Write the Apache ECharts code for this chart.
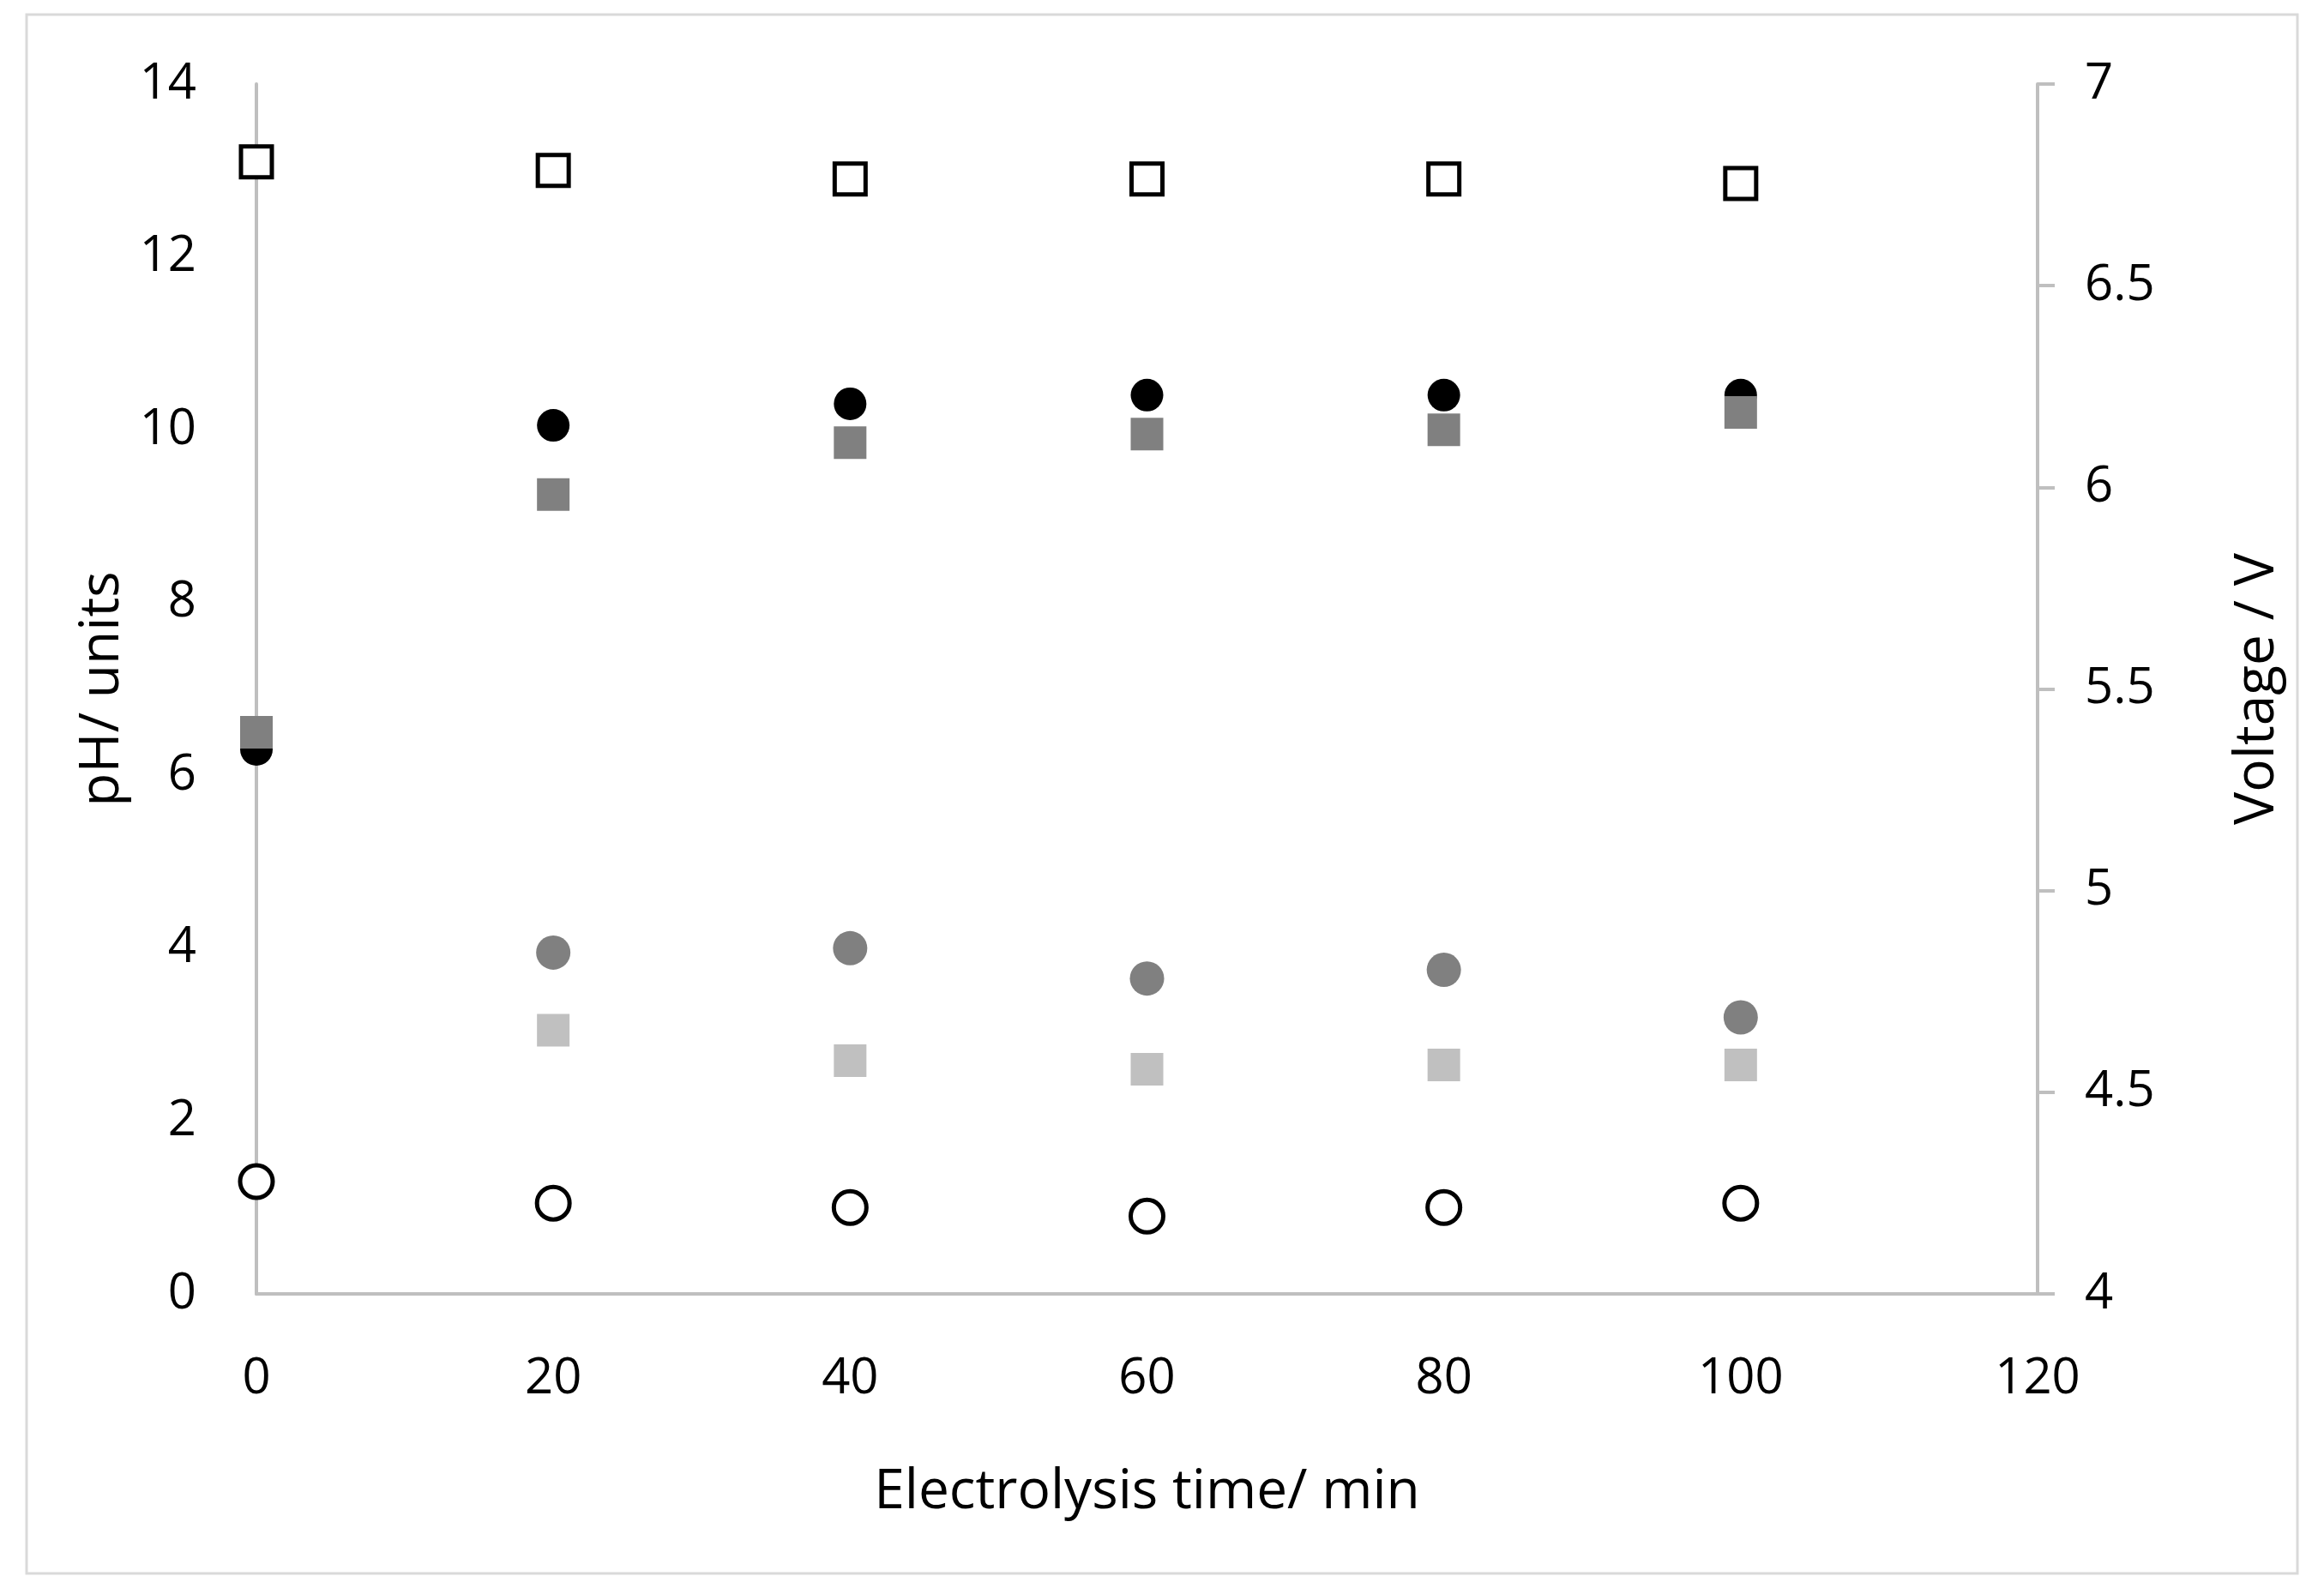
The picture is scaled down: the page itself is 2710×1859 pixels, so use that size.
<!DOCTYPE html>
<html><head><meta charset="utf-8">
<script src="https://cdn.jsdelivr.net/npm/echarts@6/dist/echarts.min.js"></script>
<style>html,body{margin:0;background:#fff}#c{width:2710px;height:1859px}</style>
</head><body><div id="c"></div>
<script>
const times = [0, 20, 40, 60, 80, 100];
const openSquares = [13.1, 13.0, 12.9, 12.9, 12.9, 12.85];
const blackCircles = [6.3, 10.05, 10.3, 10.4, 10.4, 10.4];
const darkSquares = [6.5, 9.25, 9.85, 9.95, 10.0, 10.2];
const grayCircles = [null, 3.95, 4.0, 3.65, 3.75, 3.2];
const lightSquares = [null, 3.05, 2.7, 2.6, 2.65, 2.65];
const openCircles = [1.3, 1.05, 1.0, 0.9, 1.0, 1.05];

const pts = a => times.map((t, i) => [t, a[i]]).filter(p => p[1] !== null);
const F = '"Open Sans", sans-serif';
const lab = {fontSize: 58, color: '#000', fontFamily: F};
function s(name, data, symbol, size, fill, stroke, z) {
  return {name, type: 'scatter', data: pts(data), symbol, symbolSize: size, z: z,
    itemStyle: {color: fill, opacity: 1, borderColor: stroke || fill, borderWidth: stroke ? 5 : 0}};
}
const chart = echarts.init(document.getElementById('c'));
chart.setOption({
  backgroundColor: '#fff',
  animation: false,
  graphic: [{type: 'rect', shape: {x: 31, y: 17, width: 2648, height: 1818},
    style: {fill: 'none', stroke: '#d9d9d9', lineWidth: 3}}],
  grid: {left: 299, right: 334, top: 98, bottom: 350},
  xAxis: {type: 'value', min: 0, max: 120, interval: 20,
    name: 'Electrolysis time/ min', nameLocation: 'middle', nameGap: 200,
    nameTextStyle: {fontSize: 64, fontFamily: F, color: '#000'},
    axisLine: {lineStyle: {color: '#bfbfbf', width: 4}}, axisTick: {show: false},
    axisLabel: Object.assign({margin: 70}, lab), splitLine: {show: false}},
  yAxis: [
    {type: 'value', min: 0, max: 14, interval: 2,
      name: 'pH/ units', nameLocation: 'middle', nameGap: 125,
      nameTextStyle: {fontSize: 64, fontFamily: F, color: '#000'},
      axisLine: {show: true, lineStyle: {color: '#bfbfbf', width: 4}}, axisTick: {show: false},
      axisLabel: Object.assign({margin: 70}, lab), splitLine: {show: false}},
    {type: 'value', min: 4, max: 7, interval: 0.5, position: 'right',
      name: 'Voltage / V', nameLocation: 'middle', nameGap: 225, nameRotate: 90,
      nameTextStyle: {fontSize: 64, fontFamily: F, color: '#000'},
      axisLine: {show: true, lineStyle: {color: '#bfbfbf', width: 4}},
      axisTick: {show: true, length: 20, lineStyle: {color: '#bfbfbf', width: 4}},
      axisLabel: Object.assign({margin: 55}, lab), splitLine: {show: false}}
  ],
  series: [
    s('a', openSquares, 'rect', 36, '#fff', '#000', 5),
    s('b', blackCircles, 'circle', 38, '#000', null, 3),
    s('c', darkSquares, 'rect', 38, '#808080', null, 4),
    s('d', grayCircles, 'circle', 40, '#808080', null, 3),
    s('e', lightSquares, 'rect', 38, '#c0c0c0', null, 3),
    s('f', openCircles, 'circle', 38, '#fff', '#000', 3)
  ]
});
</script></body></html>
